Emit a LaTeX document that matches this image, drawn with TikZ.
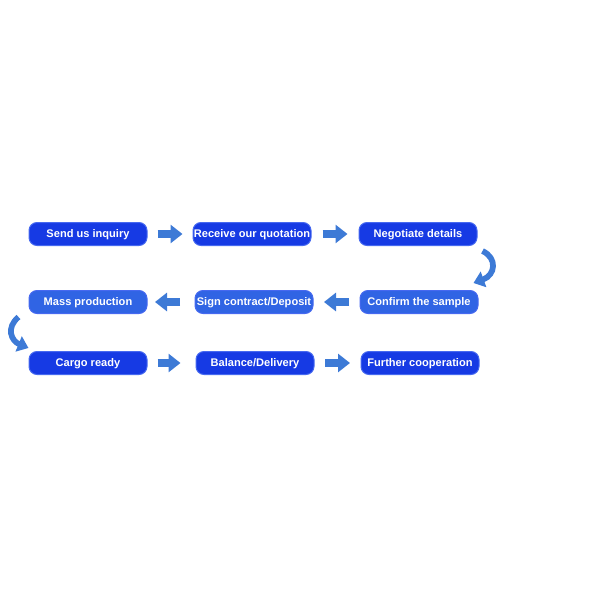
\documentclass[tikz,border=0pt]{standalone}
\usepackage{fontspec}
\setmainfont{Liberation Sans}
\usetikzlibrary{arrows.meta,calc}

\tikzset{every picture/.style={line width=0.75pt}}
\tikzset{
  stepdark/.style={draw={rgb, 255:red, 70; green, 105; blue, 240}, fill={rgb, 255:red, 22; green, 58; blue, 228}, rounded corners=6pt,
    minimum width=88.5pt, minimum height=17.25pt, inner sep=0pt, text height=5.9pt, text depth=0pt,
    text=white, font=\bfseries\fontsize{8.3}{9}\selectfont},
  steplight/.style={stepdark, fill={rgb, 255:red, 48; green, 100; blue, 228}},
  flowarr/.style={draw={rgb, 255:red, 61; green, 122; blue, 214}, line width=6pt, -{Triangle[width=13.5pt,length=9pt]}},
  bendarr/.style={draw={rgb, 255:red, 61; green, 122; blue, 214}, line width=4.3pt, -{Triangle[width=12pt,length=8pt]}}
}

\begin{document}
\begin{tikzpicture}[x=0.75pt,y=0.75pt,yscale=-1,xscale=1]
\useasboundingbox (0,0) rectangle (600,600);

% Row 1
\node [stepdark] (inquiry) at (88,234) {Send us inquiry};
\node [stepdark] (quote) at (252,234) {Receive our quotation};
\node [stepdark] (nego) at (418,234) {Negotiate details};
% Row 2
\node [steplight] (mass) at (88,302) {Mass production};
\node [steplight] (sign) at (254,302) {Sign contract/Deposit};
\node [steplight] (confirm) at (419,302) {Confirm the sample};
% Row 3
\node [stepdark] (cargo) at (88,363) {Cargo ready};
\node [stepdark] (balance) at (255,363) {Balance/Delivery};
\node [stepdark] (further) at (420,363) {Further cooperation};

% Block arrows
\draw [flowarr] ($(inquiry.east)!0.5!(quote.west)+(-12.5,0)$) -- ($(inquiry.east)!0.5!(quote.west)+(12.5,0)$);
\draw [flowarr] ($(quote.east)!0.5!(nego.west)+(-12.5,0)$) -- ($(quote.east)!0.5!(nego.west)+(12.5,0)$);
\draw [flowarr] ($(sign.east)!0.5!(confirm.west)+(12.5,0)$) -- ($(sign.east)!0.5!(confirm.west)+(-12.5,0)$);
\draw [flowarr] ($(mass.east)!0.5!(sign.west)+(9,0)$) -- ($(mass.east)!0.5!(sign.west)+(-16,0)$);
\draw [flowarr] ($(cargo.east)!0.5!(balance.west)+(-14,0)$) -- ($(cargo.east)!0.5!(balance.west)+(9,0)$);
\draw [flowarr] ($(balance.east)!0.5!(further.west)+(-12.5,0)$) -- ($(balance.east)!0.5!(further.west)+(12.5,0)$);

% Curved arrows
\draw [bendarr] ($(nego.south east)+(5,5)$) .. controls ($(nego.south east)+(20,12)$) and ($(confirm.north east)+(17,-15)$) .. ($(confirm.north east)+(-5,-7)$);
\draw [bendarr] ($(mass.south west)+(-10,3)$) .. controls ($(mass.south west)+(-23,14)$) and ($(cargo.north west)+(-17,-10)$) .. ($(cargo.north west)+(0,-3)$);

\end{tikzpicture}
\end{document}
